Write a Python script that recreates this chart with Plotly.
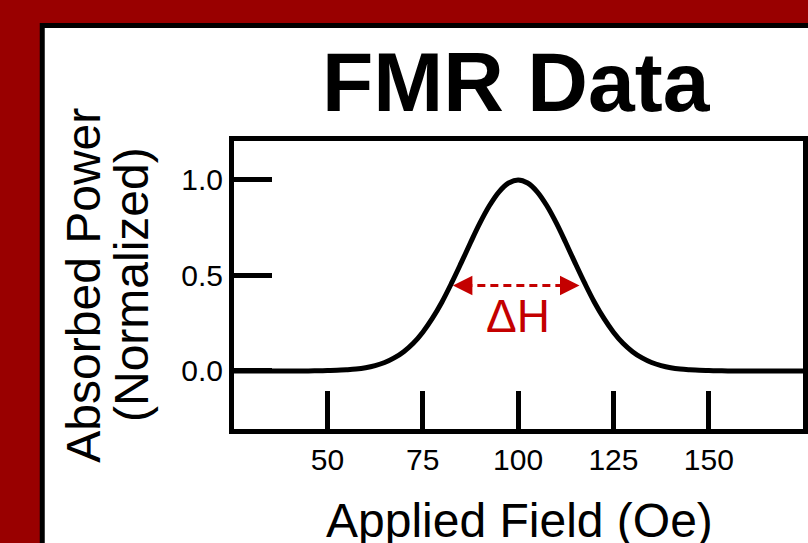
import plotly.graph_objects as go

# ---- data ----
field = [25, 27.5, 30, 32.5, 35, 37.5, 40, 42.5, 45, 47.5, 50, 52.5, 55, 57.5, 60, 62.5, 65,
         67.5, 70, 72.5, 75, 77.5, 80, 82.5, 85, 87.5, 90, 92.5, 95, 97.5, 100,
         102.5, 105, 107.5, 110, 112.5, 115, 117.5, 120, 122.5, 125, 127.5, 130,
         132.5, 135, 137.5, 140, 142.5, 145, 147.5, 150, 152.5, 155, 157.5, 160,
         162.5, 165, 167.5, 170, 172.5, 175]
power = [0.0, 0.0, 0.0, 0.0, 0.0, 0.0, 0.0, 0.0, 0.0, 0.001, 0.002, 0.003, 0.006, 0.010, 0.017,
         0.028, 0.044, 0.068, 0.101, 0.145, 0.203, 0.275, 0.360, 0.458, 0.563, 0.671,
         0.775, 0.866, 0.938, 0.984, 1.0,
         0.984, 0.938, 0.866, 0.775, 0.671, 0.563, 0.458, 0.360, 0.275, 0.203, 0.145,
         0.101, 0.068, 0.044, 0.028, 0.017, 0.010, 0.006, 0.003, 0.002, 0.001, 0.0,
         0.0, 0.0, 0.0, 0.0, 0.0, 0.0, 0.0, 0.0]

x_ticks = [50, 75, 100, 125, 150]
x_tick_labels = ["50", "75", "100", "125", "150"]
y_ticks = [0.0, 0.5, 1.0]
y_tick_labels = ["0.0", "0.5", "1.0"]

dh_left, dh_right, dh_level = 82.9, 116.1, 0.448

title_text = "<b>FMR Data</b>"
x_title = "Applied Field (Oe)"
y_title_1 = "Absorbed Power"
y_title_2 = "(Normalized)"

FONT = "Liberation Sans, Arial, sans-serif"
RED = "#C40000"

fig = go.Figure()
fig.add_trace(go.Scatter(x=field, y=power, mode="lines",
                         line=dict(color="black", width=5, shape="spline"),
                         hoverinfo="skip", showlegend=False))
# dashed ΔH line
fig.add_trace(go.Scatter(x=[dh_left + 3, dh_right - 3], y=[dh_level, dh_level], mode="lines",
                         line=dict(color=RED, width=3, dash="8px,5px"),
                         hoverinfo="skip", showlegend=False))

anns = []
# arrow heads
for tip, tail in [(dh_left, dh_left + 4), (dh_right, dh_right - 4)]:
    anns.append(dict(x=tip, y=dh_level, ax=tail, ay=dh_level, xref="x", yref="y",
                     axref="x", ayref="y", text="", showarrow=True, arrowhead=2,
                     arrowsize=1.3, arrowwidth=3, arrowcolor=RED))
anns.append(dict(x=100, y=0.29, xref="x", yref="y", text="ΔH", showarrow=False,
                 font=dict(family=FONT, size=46, color=RED), xanchor="center", yanchor="middle"))
anns.append(dict(x=0.496, y=1.205, xref="paper", yref="paper", text=title_text, showarrow=False,
                 font=dict(family=FONT, size=84, color="black"), xanchor="center", yanchor="middle"))
anns.append(dict(x=0.501, y=-0.318, xref="paper", yref="paper", text=x_title, showarrow=False,
                 font=dict(family=FONT, size=48, color="black"), xanchor="center", yanchor="middle"))
anns.append(dict(x=-0.266, y=0.5, xref="paper", yref="paper", text=y_title_1, showarrow=False,
                 textangle=-90, font=dict(family=FONT, size=48, color="black"),
                 xanchor="center", yanchor="middle"))
anns.append(dict(x=-0.181, y=0.5, xref="paper", yref="paper", text=y_title_2, showarrow=False,
                 textangle=-90, font=dict(family=FONT, size=48, color="black"),
                 xanchor="center", yanchor="middle"))

fig.update_layout(
    width=808, height=543,
    margin=dict(l=234, r=0, t=141, b=114, pad=0),
    paper_bgcolor="#990000",
    plot_bgcolor="white",
    showlegend=False,
    annotations=anns,
    shapes=[dict(type="rect", xref="paper", yref="paper",
                 x0=-0.337, x1=3, y0=-3, y1=1.401,
                 line=dict(color="black", width=5), fillcolor="white", layer="below")],
)
fig.update_xaxes(range=[25.5, 174.7], showgrid=False, zeroline=False,
                 showline=True, mirror=True, linecolor="black", linewidth=5,
                 ticks="inside", ticklen=38, tickwidth=5, tickcolor="black",
                 tickvals=x_ticks, ticktext=x_tick_labels,
                 tickfont=dict(family=FONT, size=30, color="black"))
fig.update_yaxes(range=[-0.304, 1.204], showgrid=False, zeroline=False,
                 showline=True, mirror=True, linecolor="black", linewidth=5,
                 ticks="inside", ticklen=38, tickwidth=5, tickcolor="black",
                 tickvals=y_ticks, ticktext=y_tick_labels,
                 tickfont=dict(family=FONT, size=30, color="black"))

fig.write_html("out.html", config={"displayModeBar": False})
